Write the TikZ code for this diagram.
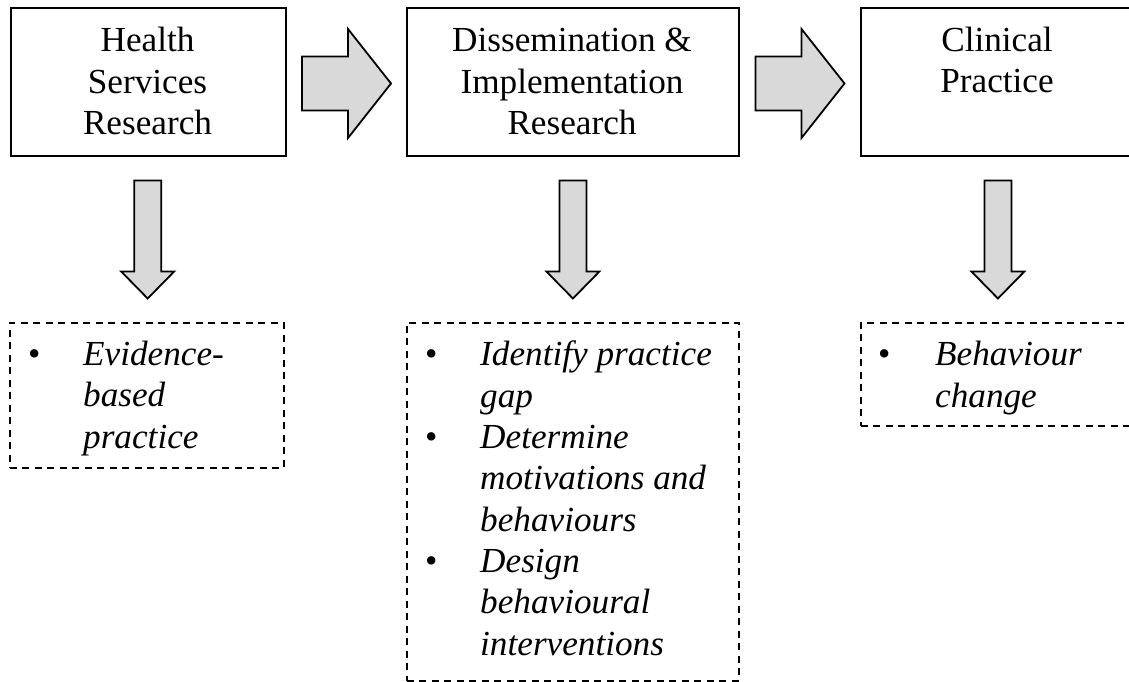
\documentclass[tikz,border=0pt]{standalone}
\usepackage{fontspec}
\setmainfont{Liberation Serif}
\usetikzlibrary{calc}
\definecolor{arrowfill}{RGB}{217,217,217}
\begin{document}
\begin{tikzpicture}[x=1pt,y=-1pt,
  stagebox/.style={draw, line width=2pt, minimum height=148pt, inner sep=0pt, anchor=north west},
  notebox/.style={draw, line width=1.7pt, dash pattern=on 7pt off 5.5pt, inner sep=0pt, anchor=north west},
  % multi-line texts are placed by the baseline of their last line
  titletext/.style={anchor=base, align=center, inner sep=0pt, font=\fontsize{35.2}{41.5}\selectfont},
  itemtext/.style={anchor=base west, align=left, inner sep=0pt, font=\fontsize{35.2}{41.5}\selectfont\itshape},
  bulletmark/.style={anchor=base west, inner sep=0pt, font=\fontsize{35.2}{41.5}\selectfont},
  blockarrow/.style={draw, line width=1.8pt, fill=arrowfill, line join=miter},
  pics/rightblock/.style={code={
    \draw[blockarrow] (-44.5,-27) -- (1.5,-27) -- (1.5,-54.5) -- (44.5,0)
      -- (1.5,54.5) -- (1.5,27) -- (-44.5,27) -- cycle;}},
  pics/downblock/.style={code={
    \draw[blockarrow] (-13.5,-59) -- (13.5,-59) -- (13.5,32) -- (26.5,32)
      -- (0,59) -- (-26.5,32) -- (-13.5,32) -- cycle;}},
]
\useasboundingbox (0,0) rectangle (1129,682);
\clip (0,0) rectangle (1129,682);

% stage boxes
\node[stagebox, minimum width=275pt] (hsr) at (10,7) {};
\node[stagebox, minimum width=332pt] (dir) at (406,7) {};
\node[stagebox, minimum width=274pt] (cp) at (860,7) {};

\node[titletext] (hsr-t) at (147.5,135) {Health\\Services\\Research};
\node[titletext] (dir-t) at (572,135) {Dissemination \&\\Implementation\\Research};
\node[titletext] (cp-t) at (997,93) {Clinical\\Practice};

% arrows between stages
\pic at ($(hsr.east)!0.5!(dir.west)+(0,1.5)$) {rightblock};
\pic at ($(dir.east)!0.5!(cp.west)+(0,1.5)$) {rightblock};

% outcome boxes
\node[notebox, minimum width=274pt, minimum height=145pt] (hsr-o) at (9,322) {};
\node[notebox, minimum width=332pt, minimum height=358pt] (dir-o) at (406,322) {};
\node[notebox, minimum width=274pt, minimum height=103pt] (cp-o) at (860,322) {};

% arrows from stages to outcomes
\pic at ($(hsr.south)!0.5!(hsr-o.north)$) {downblock};
\pic at ($(dir.south)!0.5!(dir-o.north)$) {downblock};
\pic at ($(cp.south)!0.5!(cp-o.north)$) {downblock};

% outcome lists
\node[bulletmark] (hsr-b1) at (28,365) {\textbullet};
\node[itemtext] (hsr-i1) at (83,448) {Evidence-\\based\\practice};

\node[bulletmark] (dir-b1) at (425,365) {\textbullet};
\node[itemtext] (dir-i1) at (480,407) {Identify practice\\gap};
\node[bulletmark] (dir-b2) at (425,448) {\textbullet};
\node[itemtext] (dir-i2) at (480,531) {Determine\\motivations and\\behaviours};
\node[bulletmark] (dir-b3) at (425,572) {\textbullet};
\node[itemtext] (dir-i3) at (480,655) {Design\\behavioural\\interventions};

\node[bulletmark] (cp-b1) at (878,365) {\textbullet};
\node[itemtext] (cp-i1) at (935,407) {Behaviour\\change};
\end{tikzpicture}
\end{document}
